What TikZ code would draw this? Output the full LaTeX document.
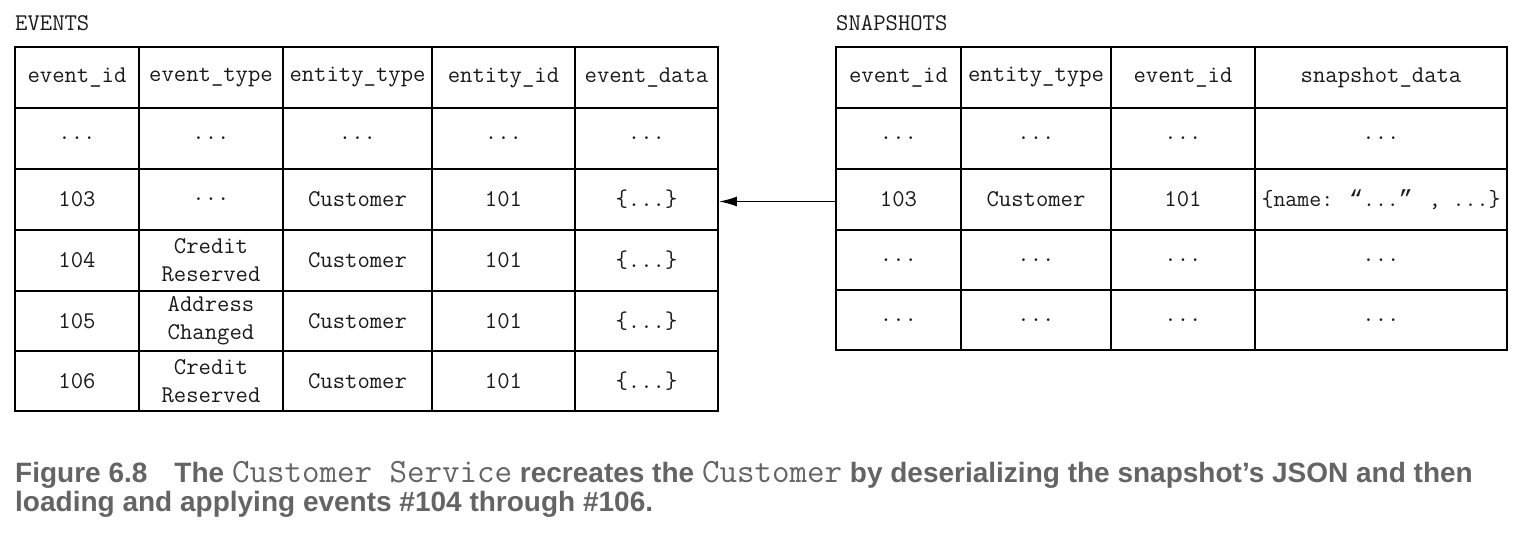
\documentclass[tikz,border=0pt]{standalone}
\usepackage{fontspec}
\setmainfont{Liberation Sans}
\newfontfamily\capfont{Liberation Sans}
\newfontfamily\quotefont{Liberation Mono}
\usetikzlibrary{arrows.meta}
\definecolor{capgray}{HTML}{646464}
\definecolor{ink}{HTML}{1A1A1A}
\tikzset{
  cell/.style={draw=black, line width=1.8pt, rectangle, inner sep=0pt, align=center,
    text=ink, font=\ttfamily\fontsize{24}{28}\selectfont},
  tabtitle/.style={anchor=base west, inner sep=0pt, text=ink, font=\ttfamily\fontsize{24}{28}\selectfont},
  captext/.style={anchor=base west, inner sep=0pt, text=capgray, font=\capfont\bfseries\fontsize{28}{34}\selectfont},
  link/.style={-{Latex[length=18pt,width=10pt]}, line width=1.6pt, draw=black}
}
\newcommand{\capcode}[1]{{\ttfamily\mdseries\fontsize{34}{34}\selectfont #1}}
\newcommand{\tcell}[6]{\node[cell, minimum width={(#3-#2)*1pt}, minimum height={(#5-#4)*1pt}] (#1) at ({(#2+#3)/2},{(#4+#5)/2}) {#6};}
\begin{document}
\begin{tikzpicture}[x=1pt,y=-1pt]
\useasboundingbox (0,0) rectangle (1526,536);
% titles
\node[tabtitle] (evtitle) at (15,30) {EVENTS};
\node[tabtitle] (sntitle) at (836,30) {SNAPSHOTS};
% EVENTS table
\tcell{e0a}{15}{139}{47}{108}{event\_id}
\tcell{e0b}{139}{283}{47}{108}{event\_type}
\tcell{e0c}{283}{432}{47}{108}{entity\_type}
\tcell{e0d}{432}{575}{47}{108}{entity\_id}
\tcell{e0e}{575}{718}{47}{108}{event\_data}
\tcell{e1a}{15}{139}{108}{169}{...}
\tcell{e1b}{139}{283}{108}{169}{...}
\tcell{e1c}{283}{432}{108}{169}{...}
\tcell{e1d}{432}{575}{108}{169}{...}
\tcell{e1e}{575}{718}{108}{169}{...}
\tcell{e2a}{15}{139}{169}{230}{103}
\tcell{e2b}{139}{283}{169}{230}{...}
\tcell{e2c}{283}{432}{169}{230}{Customer}
\tcell{e2d}{432}{575}{169}{230}{101}
\tcell{e2e}{575}{718}{169}{230}{\{...\}}
\tcell{e3a}{15}{139}{230}{291}{104}
\tcell{e3b}{139}{283}{230}{291}{Credit\\Reserved}
\tcell{e3c}{283}{432}{230}{291}{Customer}
\tcell{e3d}{432}{575}{230}{291}{101}
\tcell{e3e}{575}{718}{230}{291}{\{...\}}
\tcell{e4a}{15}{139}{291}{351}{105}
\tcell{e4b}{139}{283}{291}{351}{Address\\Changed}
\tcell{e4c}{283}{432}{291}{351}{Customer}
\tcell{e4d}{432}{575}{291}{351}{101}
\tcell{e4e}{575}{718}{291}{351}{\{...\}}
\tcell{e5a}{15}{139}{351}{411}{106}
\tcell{e5b}{139}{283}{351}{411}{Credit\\Reserved}
\tcell{e5c}{283}{432}{351}{411}{Customer}
\tcell{e5d}{432}{575}{351}{411}{101}
\tcell{e5e}{575}{718}{351}{411}{\{...\}}
% SNAPSHOTS table
\tcell{s0a}{836}{961}{47}{108}{event\_id}
\tcell{s0b}{961}{1111}{47}{108}{entity\_type}
\tcell{s0c}{1111}{1255}{47}{108}{event\_id}
\tcell{s0d}{1255}{1507}{47}{108}{snapshot\_data}
\tcell{s1a}{836}{961}{108}{169}{...}
\tcell{s1b}{961}{1111}{108}{169}{...}
\tcell{s1c}{1111}{1255}{108}{169}{...}
\tcell{s1d}{1255}{1507}{108}{169}{...}
\tcell{s2a}{836}{961}{169}{230}{103}
\tcell{s2b}{961}{1111}{169}{230}{Customer}
\tcell{s2c}{1111}{1255}{169}{230}{101}
\tcell{s2d}{1255}{1507}{169}{230}{\fontsize{23.2}{28}\selectfont\{name: {\quotefont“}...{\quotefont”} , ...\}}
\tcell{s3a}{836}{961}{230}{290}{...}
\tcell{s3b}{961}{1111}{230}{290}{...}
\tcell{s3c}{1111}{1255}{230}{290}{...}
\tcell{s3d}{1255}{1507}{230}{290}{...}
\tcell{s4a}{836}{961}{290}{350}{...}
\tcell{s4b}{961}{1111}{290}{350}{...}
\tcell{s4c}{1111}{1255}{290}{350}{...}
\tcell{s4d}{1255}{1507}{290}{350}{...}
% connector
\draw[link] ([yshift=-2pt]s2a.west) -- ([yshift=-2pt]e2e.east);
% caption
\node[captext] (cap1) at (15,482) {Figure 6.8\hspace{27pt}The \capcode{Customer Service} recreates the \capcode{Customer} by deserializing the snapshot’s JSON and then};
\node[captext] (cap2) at (15,511) {loading and applying events \#104 through \#106.};
\end{tikzpicture}
\end{document}
